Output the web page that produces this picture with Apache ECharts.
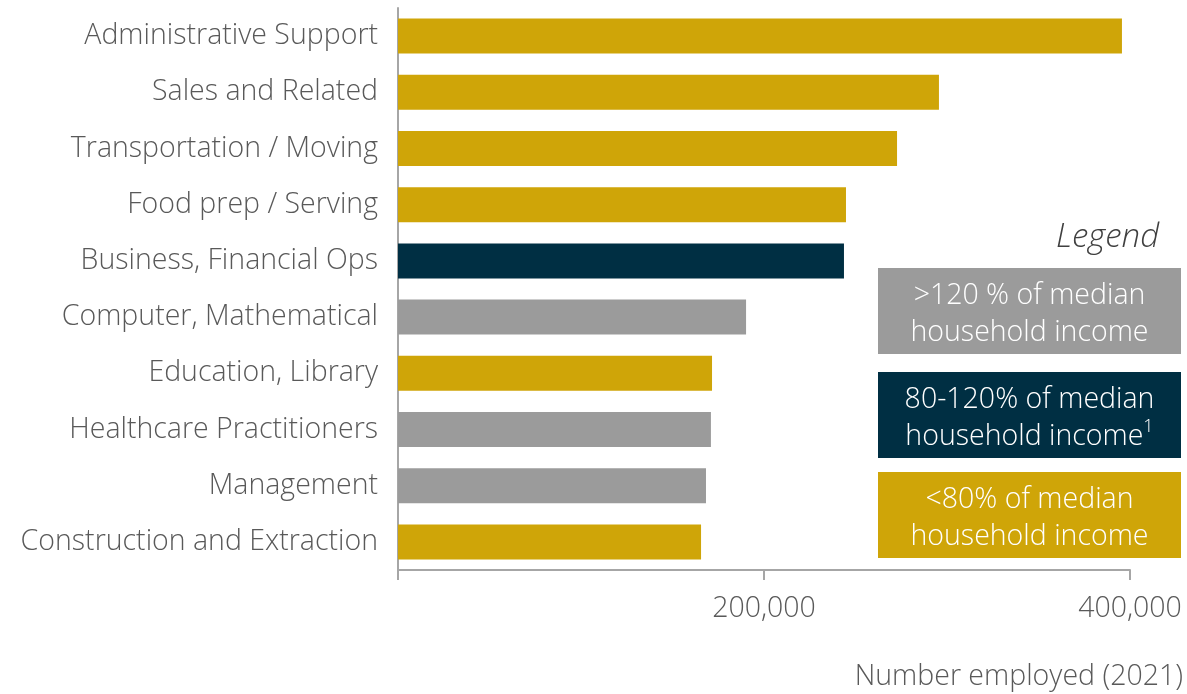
<!DOCTYPE html>
<html>
<head>
<meta charset="utf-8">
<script src="https://cdn.jsdelivr.net/npm/echarts@6/dist/echarts.min.js"></script>
<style>html,body{margin:0;padding:0;background:#fff}#c{width:1187px;height:694px}</style>
</head>
<body>
<div id="c"></div>
<script>
const categories = ["Administrative Support","Sales and Related","Transportation / Moving","Food prep / Serving","Business, Financial Ops","Computer, Mathematical","Education, Library","Healthcare Practitioners","Management","Construction and Extraction"];
const employed = [395600, 295600, 272700, 244800, 243700, 190200, 171600, 171000, 168300, 165600];
const incomeTier = ["low","low","low","low","mid","high","low","high","high","low"];
const xTicks = [0, 200000, 400000];
const tierColors = {high:"#9B9B9B", mid:"#002F43", low:"#CFA508"};
const legendItems = [
  {tier:"high", lines:[">120 % of median","household income"]},
  {tier:"mid", lines:["80-120% of median","household income{sup|1}"]},
  {tier:"low", lines:["<80% of median","household income"]}
];
const FONT = "'Open Sans', Lato, sans-serif";
const FS = 28.5;
const chart = echarts.init(document.getElementById('c'), null, {renderer:'canvas'});
const boxTops = [268, 372, 472];
const graphic = [
  {type:'text', right:28, top:221, style:{text:'Legend', font:'italic 300 33px '+FONT, fill:'#404040', textAlign:'right'}}
];
legendItems.forEach((it,i)=>{
  graphic.push({type:'rect', shape:{x:878, y:boxTops[i], width:303, height:86}, style:{fill:tierColors[it.tier]}});
  graphic.push({type:'text', x:1029.5, y:boxTops[i]+46, style:{
    text: it.lines.join('\n'), fill:'#fff', font:'300 '+FS+'px '+FONT, align:'center', verticalAlign:'middle', lineHeight:37,
    rich:{sup:{fontSize:18, fontWeight:300, fill:'#fff', verticalAlign:'top', lineHeight:37, padding:[0,0,16,0], fontFamily:FONT}}
  }});
});
chart.setOption({
  animation:false,
  grid:{left:398, right:57, top:8, bottom:124, containLabel:false},
  xAxis:{type:'value', min:xTicks[0], max:xTicks[xTicks.length-1], interval:xTicks[1]-xTicks[0],
    name:'Number employed (2021)', nameLocation:'end', nameGap:0,
    nameTextStyle:{fontFamily:FONT, fontWeight:300, fontSize:FS, color:'#595959', align:'right', verticalAlign:'top', padding:[92,-53,0,0]},
    axisLine:{show:true, lineStyle:{color:'#A6A6A6', width:2}},
    axisTick:{show:true, length:10, lineStyle:{color:'#A6A6A6', width:2}},
    splitLine:{show:false},
    axisLabel:{margin:24, fontFamily:FONT, fontWeight:300, fontSize:FS, color:'#595959',
      formatter:v=> v===0 ? '' : v.toLocaleString('en-US')}
  },
  yAxis:{type:'category', data:categories, inverse:true,
    axisLine:{show:true, lineStyle:{color:'#A6A6A6', width:2}},
    axisTick:{show:false},
    axisLabel:{margin:20, padding:[4,0,0,0], fontFamily:FONT, fontWeight:300, fontSize:FS, color:'#595959'}
  },
  series:[{type:'bar', barWidth:35,
    data: employed.map((v,i)=>({value:v, itemStyle:{color:tierColors[incomeTier[i]]}}))
  }],
  graphic: graphic
});
</script>
</body>
</html>
